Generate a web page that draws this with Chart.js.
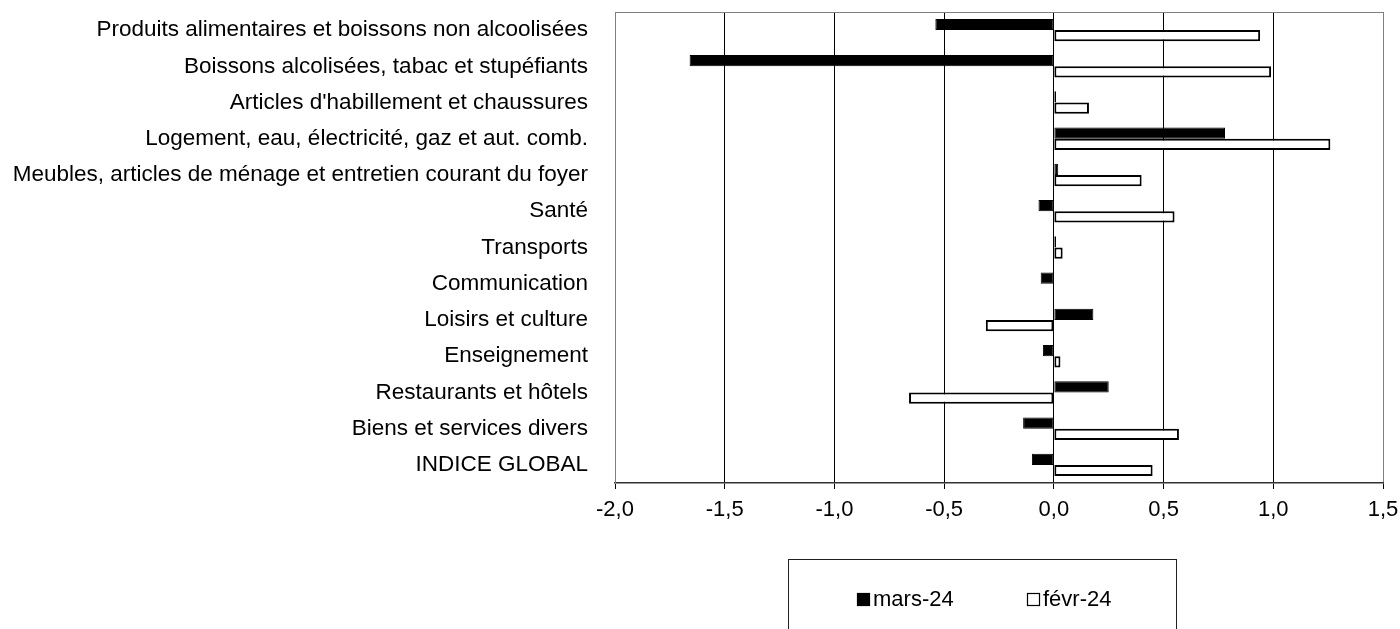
<!DOCTYPE html>
<html lang="fr">
<head>
<meta charset="utf-8">
<script src="https://cdn.jsdelivr.net/npm/chart.js@4.4.1/dist/chart.umd.min.js"></script>
<style>
  html, body { margin: 0; padding: 0; background: #fff; }
  #wrap { width: 1400px; height: 629px; }
</style>
</head>
<body>
<div id="wrap"><canvas id="chart" width="1400" height="629"></canvas></div>
<script>
// categories (top to bottom)
const categories = [
  "Produits alimentaires et boissons non alcoolisées",
  "Boissons alcolisées, tabac et stupéfiants",
  "Articles d'habillement et chaussures",
  "Logement, eau, électricité, gaz et aut. comb.",
  "Meubles, articles de ménage et entretien courant du foyer",
  "Santé",
  "Transports",
  "Communication",
  "Loisirs et culture",
  "Enseignement",
  "Restaurants et hôtels",
  "Biens et services divers",
  "INDICE GLOBAL"
];

// series
const mars24 = [-0.54, -1.66, 0.01, 0.78, 0.02, -0.07, 0.01, -0.06, 0.18, -0.05, 0.25, -0.14, -0.10];
const fevr24 = [0.94, 0.99, 0.16, 1.26, 0.40, 0.55, 0.04, 0, -0.31, 0.03, -0.66, 0.57, 0.45];

// x axis
const xMin = -2.0;
const xMax = 1.5;
const xStep = 0.5;

const FONT = "'Liberation Sans', Arial, sans-serif";

// -------------------------------
// top border of the plot area
// -------------------------------
const topBorder = {
  id: "topBorder",
  beforeDatasetsDraw(chart) {
    const { ctx, chartArea } = chart;
    ctx.save();
    ctx.strokeStyle = "#808080";
    ctx.lineWidth = 1;
    ctx.beginPath();
    ctx.moveTo(chartArea.left, chartArea.top + 0.5);
    ctx.lineTo(chartArea.right, chartArea.top + 0.5);
    ctx.stroke();
    ctx.restore();
  }
};

// -------------------------------
// boxed legend under the axis
// -------------------------------
const boxLegend = {
  id: "boxLegend",
  afterDraw(chart) {
    const { ctx } = chart;
    const box = { x: 788.5, y: 559.5, w: 388, h: 90 };
    ctx.save();
    ctx.strokeStyle = "#202020";
    ctx.lineWidth = 1;
    ctx.strokeRect(box.x, box.y, box.w, box.h);

    ctx.font = "22px " + FONT;
    ctx.textBaseline = "middle";
    const items = [
      { x: 857, ds: chart.data.datasets[0] },
      { x: 1027, ds: chart.data.datasets[1] }
    ];
    const yMid = 600;
    items.forEach(it => {
      ctx.fillStyle = it.ds.backgroundColor;
      ctx.fillRect(it.x, yMid - 7, 13, 13);
      ctx.strokeStyle = "#000";
      ctx.lineWidth = 1.2;
      ctx.strokeRect(it.x + 0.5, yMid - 6.5, 12, 12);
      ctx.fillStyle = "#000";
      ctx.textAlign = "left";
      ctx.fillText(it.ds.label, it.x + 16, yMid);
    });
    ctx.restore();
  }
};

new Chart(document.getElementById("chart"), {
  type: "bar",
  data: {
    labels: categories,
    datasets: [
      {
        label: "mars-24",
        data: mars24,
        backgroundColor: "#000000",
        borderColor: "#000000",
        borderWidth: 1,
        borderSkipped: false
      },
      {
        label: "févr-24",
        data: fevr24,
        backgroundColor: "#ffffff",
        borderColor: "#000000",
        borderWidth: 2,
        borderSkipped: false
      }
    ]
  },
  options: {
    indexAxis: "y",
    responsive: false,
    animation: false,
    devicePixelRatio: 1,
    categoryPercentage: 0.62,
    barPercentage: 1.0,
    layout: { padding: { top: 12, right: 17, bottom: 0, left: 0 } },
    plugins: {
      legend: { display: false },
      tooltip: { enabled: false }
    },
    scales: {
      x: {
        min: xMin,
        max: xMax,
        afterFit(scale) {
          scale.height = 146;
          scale.paddingLeft = 0;
          scale.paddingRight = 0;
        },
        ticks: {
          stepSize: xStep,
          color: "#000",
          padding: 8,
          maxRotation: 0,
          font: { family: FONT, size: 22 },
          callback: v => Number(v).toFixed(1).replace(".", ",")
        },
        grid: {
          color: c => (c.index === 0 || c.index === 7 ? "#808080" : "#000000"),
          lineWidth: 1,
          drawTicks: true,
          tickLength: 6,
          tickColor: "#000"
        },
        border: { display: true, color: "#333", width: 1.5 }
      },
      y: {
        afterFit(scale) {
          scale.width = 615;
          scale.paddingTop = 0;
          scale.paddingBottom = 0;
        },
        ticks: {
          color: "#000",
          padding: 27,
          autoSkip: false,
          font: { family: FONT, size: 22.5 }
        },
        grid: { display: false, drawTicks: false },
        border: { display: true, color: "#808080", width: 1 }
      }
    }
  },
  plugins: [topBorder, boxLegend]
});
</script>
</body>
</html>
